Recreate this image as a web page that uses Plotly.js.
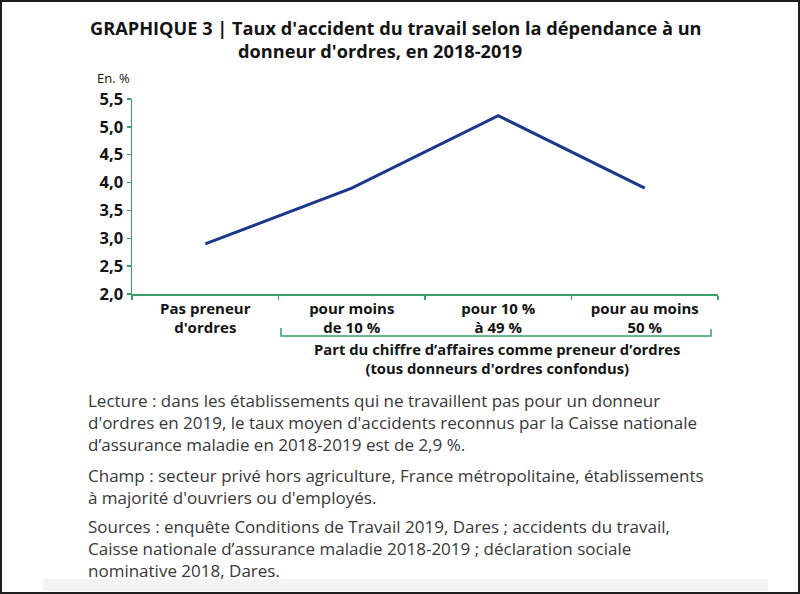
<!DOCTYPE html>
<html>
<head>
<meta charset="utf-8">
<script src="https://cdn.plot.ly/plotly-3.0.1.min.js"></script>
<style>
html,body{margin:0;padding:0;background:#fff;}
#chart{width:800px;height:594px;}
</style>
</head>
<body>
<div id="chart"></div>
<script>
// ---- data ----
var categories = ["Pas preneur<br>d'ordres", "pour moins<br>de 10 %", "pour 10 %<br>à 49 %", "pour au moins<br>50 %"];
var tauxAccident = [2.9, 3.9, 5.2, 3.9];
var yTickValues = [2.0, 2.5, 3.0, 3.5, 4.0, 4.5, 5.0, 5.5];

var titleLine1 = "GRAPHIQUE 3 | Taux d'accident du travail selon la dépendance à un";
var titleLine2 = "donneur d'ordres, en 2018-2019";
var unitLabel = "En. %";
var groupLabel1 = "Part du chiffre d’affaires comme preneur d’ordres";
var groupLabel2 = "(tous donneurs d'ordres confondus)";
var lectureLines = [
  "Lecture : dans les établissements qui ne travaillent pas pour un donneur",
  "d'ordres en 2019, le taux moyen d'accidents reconnus par la Caisse nationale",
  "d’assurance maladie en 2018-2019 est de 2,9 %."
];
var champLines = [
  "Champ : secteur privé hors agriculture, France métropolitaine, établissements",
  "à majorité d'ouvriers ou d'employés."
];
var sourcesLines = [
  "Sources : enquête Conditions de Travail 2019, Dares ; accidents du travail,",
  "Caisse nationale d’assurance maladie 2018-2019 ; déclaration sociale",
  "nominative 2018, Dares."
];

// ---- geometry ----
var W = 800, H = 594;
var M = {l: 132, r: 82, t: 99, b: 300};
var PW = W - M.l - M.r, PH = H - M.t - M.b;
function px(x){ return (x - M.l) / PW; }
function py(y){ return (H - M.b - y) / PH; }

var green = "#3a9f6b";
var dark = "#141414";
var boldFont = "Open Sans, sans-serif";
var bodyFont = "Open Sans, sans-serif";

var annotations = [
  {text: titleLine1, x: px(88), y: py(28), xanchor: "left", yanchor: "middle",
   font: {family: boldFont, size: 18.2, color: dark, weight: 700}},
  {text: titleLine2, x: px(236), y: py(51), xanchor: "left", yanchor: "middle",
   font: {family: boldFont, size: 18.2, color: dark, weight: 700}},
  {text: unitLabel, x: px(95), y: py(78), xanchor: "left", yanchor: "middle",
   font: {family: boldFont, size: 13, color: dark}},
  {text: "<b>" + groupLabel1 + "</b><br><b>" + groupLabel2 + "</b>", x: px(497), y: py(358), xanchor: "center", yanchor: "middle",
   font: {family: boldFont, size: 14.8, color: dark}}
];
[[lectureLines, 422.3], [champLines, 486], [sourcesLines, 548.3]].forEach(function(p){
  annotations.push({text: p[0].join("<br>"), x: px(86), y: py(p[1]), xanchor: "left", yanchor: "middle",
    align: "left", font: {family: bodyFont, size: 17, color: "#383838"}});
});
annotations.forEach(function(a){ a.xref = "paper"; a.yref = "paper"; a.showarrow = false; });

var shapes = [
  {type: "rect", xref: "paper", yref: "paper", x0: px(43), x1: px(768), y0: py(591), y1: py(579),
   fillcolor: "#f3f3f3", line: {width: 0}, layer: "below"},
  {type: "path", xref: "paper", yref: "paper",
   path: "M " + px(281) + " " + py(328) + " L " + px(281) + " " + py(336) + " L " + px(711) + " " + py(336) + " L " + px(711) + " " + py(329),
   line: {color: green, width: 1.5}},
  {type: "rect", xref: "paper", yref: "paper", x0: px(1), x1: px(799), y0: py(593), y1: py(1),
   line: {color: "#1e1e1e", width: 2}}
];

var trace = {
  type: "scatter", mode: "lines",
  x: categories, y: tauxAccident,
  line: {color: "#1b388a", width: 3},
  hoverinfo: "x+y"
};

var layout = {
  width: W, height: H,
  margin: M,
  paper_bgcolor: "#ffffff", plot_bgcolor: "#ffffff",
  separators: ", ",
  showlegend: false,
  xaxis: {
    type: "category", range: [-0.5, 3.5],
    showline: true, linecolor: green, linewidth: 1.5,
    ticks: "outside", tickson: "boundaries", tickcolor: green, ticklen: 4, tickwidth: 1.5,
    showgrid: false, zeroline: false,
    tickfont: {family: boldFont, size: 15, color: dark, weight: 700}
  },
  yaxis: {
    range: [2, 5.5], tickvals: yTickValues, tickformat: ".1f",
    showline: true, linecolor: green, linewidth: 1.5,
    ticks: "outside", tickcolor: green, ticklen: 4, tickwidth: 1.5,
    showgrid: false, zeroline: false,
    tickfont: {family: boldFont, size: 16.5, color: dark, weight: 700}
  },
  annotations: annotations,
  shapes: shapes
};

Plotly.newPlot("chart", [trace], layout, {displayModeBar: false, staticPlot: true});
</script>
</body>
</html>
